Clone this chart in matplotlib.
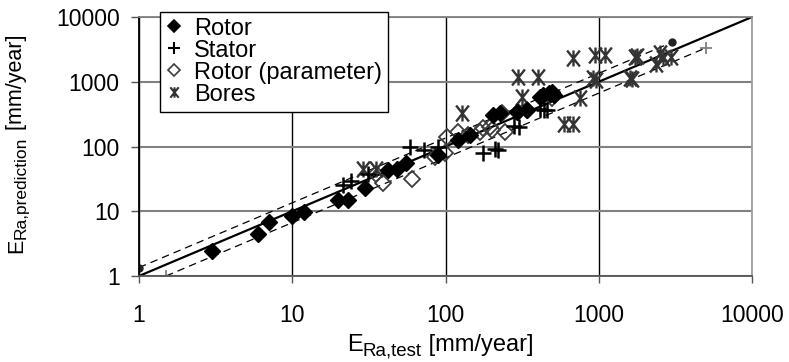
import matplotlib
matplotlib.use("Agg")
import matplotlib.pyplot as plt
from matplotlib.path import Path
from matplotlib.transforms import IdentityTransform
import numpy as np

plt.rcParams['font.family'] = ['Liberation Sans', 'DejaVu Sans']

# ---- data ----
rotor_x = [3, 6, 7, 10, 12, 20, 23, 30, 42, 48, 55, 90, 121, 145, 204, 227, 292, 339, 412, 435, 471, 494, 508]
rotor_y = [2.4, 4.4, 6.8, 8.5, 9.7, 14.9, 14.9, 22.5, 43, 45, 55, 74, 125, 150, 306, 326, 345, 365, 586, 624, 663, 700, 624]

stator_x = [21.5, 24, 31, 58.6, 72, 90, 175, 210, 220, 280, 300, 412, 440, 458]
stator_y = [25.4, 29, 38, 99, 88, 99, 80, 92, 88, 210, 200, 380, 365, 370]

param_x = [35, 39, 60, 85, 99, 102, 121, 141, 168, 176, 195, 200, 245, 233, 299, 339, 494]
param_y = [38, 27, 32, 68, 78, 141, 169, 150, 169, 190, 202, 180, 165, 326, 345, 365, 555]

bores_x = [29, 35, 128, 299, 404, 315, 590, 682, 682, 946, 1097, 915, 966, 753, 1600, 1660, 1725, 1780, 2495, 2620, 2370, 2960]
bores_y = [45, 45, 326, 1197, 1197, 586, 225, 225, 2300, 2590, 2590, 1125, 1060, 555, 1125, 1100, 2440, 2500, 2740, 2300, 1900, 2440]

ideal_x = [1, 10000]
upper_x = [1, 3000]
upper_factor = 1.35
lower_x = [1.5, 5000]
lower_factor = 1 / 1.5

ticks = [1, 10, 100, 1000, 10000]
tick_labels = ['1', '10', '100', '1000', '10000']

# ---- figure ----
W, H = 789, 362
fig = plt.figure(figsize=(W / 100, H / 100), dpi=100)
ax = fig.add_axes([139/W, 1 - 276/H, (752-139)/W, (276-17)/H])
ax.set_xscale('log')
ax.set_yscale('log')
ax.set_xlim(1, 10000)
ax.set_ylim(1, 10000)
ax.set_axisbelow(True)

ax.yaxis.grid(True, which='major', color='#808080', lw=1.5)
ax.xaxis.grid(True, which='major', color='black', lw=1.0)
ax.minorticks_off()

for side, col in [('left', 'black'), ('bottom', '#555555'), ('top', '#808080'), ('right', '#a0a0a0')]:
    ax.spines[side].set_color(col)
    ax.spines[side].set_linewidth(1.3)

ax.set_xticks(ticks)
ax.set_xticklabels(tick_labels)
ax.set_yticks(ticks)
ax.set_yticklabels(tick_labels)
ax.tick_params(axis='x', length=5, width=1, direction='out', pad=15, labelsize=16.5, color='#555555')
ax.tick_params(axis='y', length=6, width=1, direction='out', pad=8, labelsize=16.5, color='#555555')

# reference lines
ux = np.array(upper_x, dtype=float)
lx = np.array(lower_x, dtype=float)
ax.plot(ideal_x, ideal_x, color='black', lw=1.6, zorder=2)
ax.plot(ux, ux * upper_factor, color='black', lw=0.9, ls=(0, (6, 4)), zorder=2,
        marker='o', ms=5, mfc='#222222', mec='#222222')
ax.plot(lx, lx * lower_factor, color='black', lw=0.9, ls=(0, (6, 4)), zorder=2,
        marker='+', ms=8, mew=1.3, mec='#808080')

# asterisk marker (X + vertical bar)
star = Path([(-0.8, -1), (0.8, 1), (-0.8, 1), (0.8, -1), (0, -1), (0, 1)],
            [Path.MOVETO, Path.LINETO, Path.MOVETO, Path.LINETO, Path.MOVETO, Path.LINETO])

h1, = ax.plot(rotor_x, rotor_y, ls='none', marker='D', ms=8, mfc='black', mec='black', zorder=4, label='Rotor')
h2, = ax.plot(stator_x, stator_y, ls='none', marker='+', ms=12, mew=1.8, color='black', zorder=4, label='Stator')
h3, = ax.plot(param_x, param_y, ls='none', marker='D', ms=8, mfc='none', mec='#3c3c3c', mew=1.3, zorder=3,
              label='Rotor (parameter)')
h4, = ax.plot(bores_x, bores_y, ls='none', marker=star, ms=11.5, mew=1.7, color='#333333', zorder=3, label='Bores')

leg = ax.legend(handles=[h1, h2, h3, h4], loc='upper left', bbox_to_anchor=(0.034, 1.02),
                frameon=True, fancybox=False, edgecolor='black', framealpha=1,
                fontsize=17, handlelength=0.7, handletextpad=0.5, labelspacing=0.0,
                borderpad=0.25, borderaxespad=0)
leg.get_frame().set_linewidth(1.0)
leg_sizes = [6.5, 9, 6.5, 7.5]
for h, s in zip(leg.legend_handles, leg_sizes):
    h.set_markersize(s)
    h.set_markeredgewidth(1.5 if h.get_marker() != 'D' else 1.2)

# ---- axis labels with large subscripts, composed piecewise ----
renderer = fig.canvas.get_renderer()


def compose(pieces, x0, y0, vertical=False):
    pos = 0.0
    for txt, size, drop in pieces:
        if vertical:
            t = fig.text(x0 + drop, y0 + pos, txt, fontsize=size, rotation=90,
                         rotation_mode='anchor', ha='left', va='baseline',
                         transform=IdentityTransform())
            pos += t.get_window_extent(renderer).height
        else:
            t = fig.text(x0 + pos, y0 - drop, txt, fontsize=size,
                         ha='left', va='baseline', transform=IdentityTransform())
            pos += t.get_window_extent(renderer).width


xl_pieces = [('E', 17, 0), ('Ra,test', 13.5, 4), ('\u00a0[mm/year]', 17, 0)]
yl_pieces = [('E', 15.5, 0), ('Ra,prediction', 12.5, 4), ('\u00a0[mm/year]', 15.5, 0)]
compose(xl_pieces, 347, H - 351)
compose(yl_pieces, 22, H - 253, vertical=True)

fig.savefig('out.png', dpi=100)
